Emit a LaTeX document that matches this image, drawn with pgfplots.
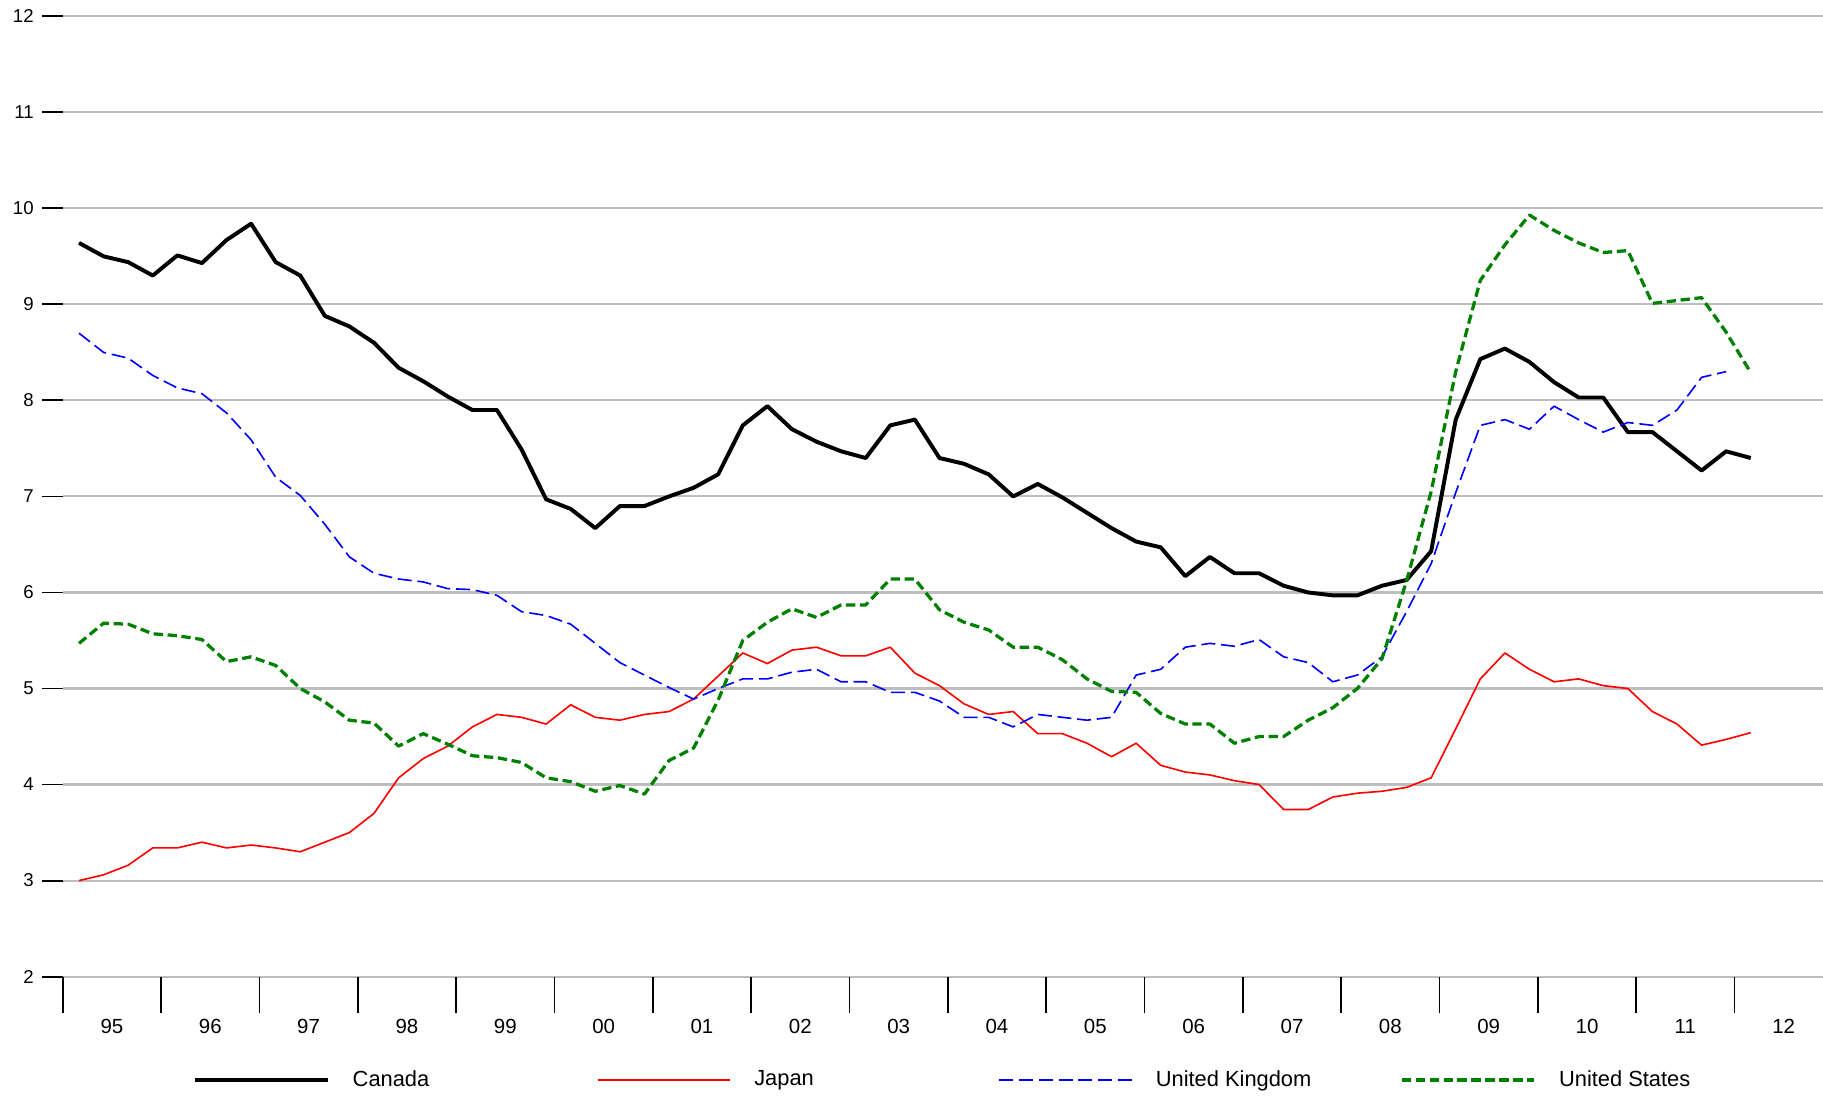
\documentclass[border=0pt]{standalone}
\usepackage{fontspec}
\setmainfont{Liberation Sans}
\usepackage{pgfplots}
\pgfplotsset{compat=1.18}
\usepackage{pgfplotstable}
\definecolor{gridgray}{RGB}{190,190,190}
\definecolor{usgreen}{RGB}{0,128,0}
\pgfplotstableread{
Canada Japan UK US
9.64 3.00 8.70 5.47
9.50 3.06 8.50 5.68
9.44 3.16 8.44 5.67
9.30 3.34 8.26 5.57
9.51 3.34 8.13 5.55
9.43 3.40 8.07 5.51
9.67 3.34 7.87 5.28
9.84 3.37 7.59 5.33
9.44 3.34 7.20 5.24
9.30 3.30 7.01 5.00
8.88 3.40 6.71 4.86
8.77 3.50 6.37 4.67
8.60 3.70 6.20 4.64
8.34 4.07 6.14 4.40
8.20 4.27 6.11 4.53
8.04 4.40 6.04 4.42
7.90 4.60 6.03 4.30
7.90 4.73 5.97 4.28
7.49 4.70 5.80 4.23
6.97 4.63 5.76 4.07
6.87 4.83 5.67 4.03
6.67 4.70 5.47 3.93
6.90 4.67 5.27 3.99
6.90 4.73 5.14 3.90
7.00 4.76 5.01 4.25
7.09 4.89 4.89 4.38
7.23 5.13 5.00 4.88
7.74 5.37 5.10 5.50
7.94 5.26 5.10 5.69
7.70 5.40 5.17 5.83
7.57 5.43 5.20 5.74
7.47 5.34 5.07 5.87
7.40 5.34 5.07 5.87
7.74 5.43 4.96 6.14
7.80 5.16 4.96 6.14
7.40 5.03 4.87 5.82
7.34 4.84 4.70 5.69
7.23 4.73 4.70 5.61
7.00 4.76 4.60 5.43
7.13 4.53 4.73 5.43
6.99 4.53 4.70 5.30
6.83 4.43 4.67 5.10
6.67 4.29 4.70 4.97
6.53 4.43 5.14 4.96
6.47 4.20 5.20 4.74
6.17 4.13 5.43 4.63
6.37 4.10 5.47 4.63
6.20 4.04 5.44 4.43
6.20 4.00 5.51 4.50
6.07 3.74 5.33 4.50
6.00 3.74 5.27 4.67
5.97 3.87 5.07 4.80
5.97 3.91 5.14 5.00
6.07 3.93 5.33 5.31
6.13 3.97 5.80 6.12
6.43 4.07 6.30 7.05
7.80 4.58 7.04 8.30
8.43 5.10 7.74 9.25
8.54 5.37 7.80 9.62
8.40 5.20 7.70 9.93
8.19 5.07 7.94 9.77
8.03 5.10 7.80 9.64
8.03 5.03 7.67 9.54
7.67 5.00 7.77 9.56
7.67 4.76 7.74 9.01
7.47 4.63 7.90 9.04
7.27 4.41 8.24 9.07
7.47 4.47 8.30 8.71
7.40 4.54 nan 8.29
}\data
\begin{document}
\begin{tikzpicture}
\begin{axis}[
  scale only axis, width=757pt, height=413pt,
  xmin=0, xmax=71.6, ymin=2, ymax=12,
  axis line style={draw=none},
  xtick pos=bottom, ytick pos=left,
  ytick={2,3,...,12},
  ymajorgrids, major grid style={gridgray, line width=0.9pt},
  xtick={2,6,...,70},
  xticklabels={95,96,97,98,99,00,01,02,03,04,05,06,07,08,09,10,11,12},
  minor xtick={0,4,...,68},
  major x tick style={draw=none},
  tick align=outside,
  major tick length=9pt, minor tick length=15.5pt,
  tick style={black, line width=0.8pt},
  /pgf/number format/assume math mode=true,
  yticklabel style={font=\fontsize{8}{9}\selectfont},
  xticklabel style={font=\fontsize{8.8}{10}\selectfont, yshift=-6pt},
  legend columns=4,
  legend style={draw=none, fill=none, inner sep=0pt, outer sep=0pt,
    at={(0,0)}, anchor=west, xshift=56pt, yshift=-44.5pt,
    font=\fontsize{9.4}{11}\selectfont,
    nodes={inner sep=0pt},
    /tikz/every odd column/.style={column sep=10pt},
    /tikz/every even column/.style={column sep=0pt}},
  legend cell align=left,
  legend image code/.code={\draw[#1] (0pt,0pt) -- (57pt,0pt);},
]
\addplot[black, line width=1.7pt, line join=round] table[x expr=\coordindex+0.66, y=Canada]{\data};
\addlegendentry{\makebox[105pt][l]{Canada}}
\addplot[red, line width=0.7pt, line join=round] table[x expr=\coordindex+0.66, y=Japan]{\data};
\addlegendentry{\makebox[105pt][l]{Japan}}
\addplot[blue, line width=0.7pt, dash pattern=on 6pt off 2.5pt, line join=round] table[x expr=\coordindex+0.66, y=UK]{\data};
\addlegendentry{\makebox[105pt][l]{United Kingdom}}
\addplot[usgreen, line width=1.4pt, dash pattern=on 4pt off 2pt, line join=round] table[x expr=\coordindex+0.66, y=US]{\data};
\addlegendentry{\makebox[105pt][l]{United States}}
\end{axis}
\pgfresetboundingbox
\path[use as bounding box] ([xshift=-27pt,yshift=-51pt]current axis.south west) rectangle ([yshift=7pt]current axis.north east);
\end{tikzpicture}
\end{document}
